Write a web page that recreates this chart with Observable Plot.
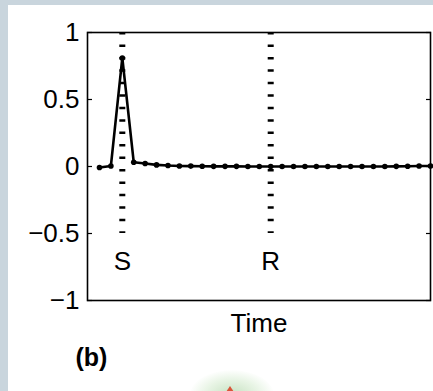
<!DOCTYPE html>
<html>
<head>
<meta charset="utf-8">
<script src="https://cdn.jsdelivr.net/npm/d3@7"></script>
<script src="https://cdn.jsdelivr.net/npm/@observablehq/plot@0.6"></script>
<style>
  html, body { margin: 0; padding: 0; }
  body { width: 433px; height: 391px; background: #c9d5dd; position: relative; overflow: hidden; font-family: "Liberation Sans", Arial, sans-serif; }
  #paper { position: absolute; left: 8px; top: 5px; right: 0; bottom: 0; background: #fff; }
  #blob { position: absolute; left: 190px; top: 370px; width: 84px; height: 50px; border-radius: 50%;
          background: radial-gradient(ellipse at center, rgba(150,200,140,0.55) 0%, rgba(180,220,170,0.3) 45%, rgba(255,255,255,0) 72%); }
  #tip { position: absolute; left: 226px; top: 386px; width: 0; height: 0; border-left: 4px solid transparent; border-right: 4px solid transparent; border-bottom: 6px solid #d9553a; }
  #chart { position: absolute; left: 0; top: 0; }
</style>
</head>
<body>
<div id="paper"></div>
<div id="blob"></div>
<div id="tip"></div>
<div id="chart"></div>
<script>
// Data
const timeIndex = d3.range(30);
const values = [-0.008, 0.004, 0.81, 0.032, 0.022, 0.012, 0.007, 0.004, 0.003, 0.002,
                0.001, 0.001, 0.001, 0, 0, 0, 0, 0, 0, 0,
                0, 0, 0, 0, 0, 0, 0.001, 0.002, 0.004, 0.004];
const markerLabels = ["S", "R"];
const markerTimes = [2, 15];
const yTicks = [-1, -0.5, 0, 0.5, 1];
const panelLabel = "(b)";
const xLabel = "Time";

const series = timeIndex.map((t, i) => ({t, v: values[i]}));
const markers = markerLabels.map((l, i) => ({label: l, t: markerTimes[i]}));
const fmt = d => (d < 0 ? "\u2212" : "") + String(Math.abs(d));

const plot = Plot.plot({
  width: 433,
  height: 391,
  marginLeft: 87,
  marginRight: 3,
  marginTop: 32,
  marginBottom: 91,
  style: {background: "transparent", fontFamily: "'Liberation Sans', Arial, sans-serif", color: "#000", overflow: "visible"},
  x: {domain: [-1.05, 29], axis: null},
  y: {domain: [-1, 1], axis: null},
  marks: [
    Plot.ruleX(markers, {x: "t", y1: 1, y2: -0.5, stroke: "#000", strokeWidth: 6, strokeDasharray: "2.5,9.95"}),
    Plot.line(series, {x: "t", y: "v", stroke: "#000", strokeWidth: 2.6, strokeLinejoin: "miter"}),
    Plot.dot(series, {x: "t", y: "v", r: 2.8, fill: "#000", stroke: "none"}),
    Plot.frame({stroke: "#000", strokeWidth: 1.6}),
    Plot.axisY(yTicks, {anchor: "left", label: null, tickSize: -5, tickPadding: 13, tickFormat: fmt, fontSize: 26, strokeWidth: 1.2}),
    Plot.axisY(yTicks, {anchor: "right", label: null, tickSize: -5, tickFormat: () => "", strokeWidth: 1.2}),
    Plot.text(markers, {x: "t", y: -0.71, text: "label", fontSize: 26, fill: "#000"}),
    Plot.text([xLabel], {frameAnchor: "bottom", lineAnchor: "middle", dy: 23, fontSize: 26, fill: "#000"}),
    Plot.text([panelLabel], {frameAnchor: "bottom-left", lineAnchor: "middle", textAnchor: "start", dx: -12, dy: 57, fontSize: 25, fontWeight: "bold", fill: "#000"})
  ]
});
document.getElementById("chart").appendChild(plot);
</script>
</body>
</html>
